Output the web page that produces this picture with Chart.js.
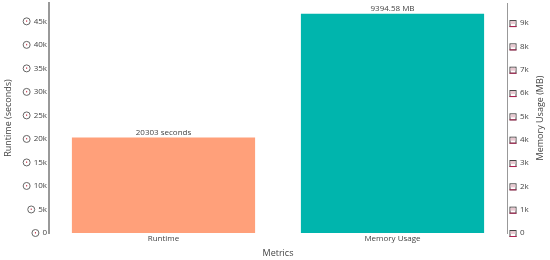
<!DOCTYPE html>
<html>
<head>
<meta charset="utf-8">
<style>
  html, body { margin: 0; padding: 0; background: #fff; }
  #wrap { width: 550px; height: 260px; }
</style>
<script src="https://cdn.jsdelivr.net/npm/chart.js@4"></script>
</head>
<body>
<div id="wrap"><canvas id="c" width="550" height="260"></canvas></div>
<script>
const categories = ['Runtime', 'Memory Usage'];
const runtimeValues = [20303, null];
const memoryValues = [null, 9394.58];
const barLabels = ['20303 seconds', '9394.58 MB'];
const runtimeTicks = [0, 5000, 10000, 15000, 20000, 25000, 30000, 35000, 40000, 45000];
const memoryTicks = [0, 1000, 2000, 3000, 4000, 5000, 6000, 7000, 8000, 9000];
const runtimeMax = 48900;
const memoryMax = 9860;
const memoryTitle = 'Memory Usage (MB)';
const FONT = '"Open Sans", sans-serif';
const TEXT = '#444444';

function kLabel(v) {
  return v === 0 ? '0' : (v / 1000) + 'k';
}

function drawClock(ctx, x, y) {
  ctx.beginPath();
  ctx.arc(x, y, 3.5, 0, Math.PI * 2);
  ctx.strokeStyle = '#666666';
  ctx.lineWidth = 1;
  ctx.stroke();
  ctx.fillStyle = '#c8344a';
  ctx.fillRect(x - 0.5, y - 1, 1, 1.5);
}

function drawDisk(ctx, x, y) {
  ctx.strokeStyle = '#444444';
  ctx.lineWidth = 1;
  ctx.strokeRect(x - 2.5, y - 2.5, 6, 6);
  ctx.fillStyle = '#e8c8d0';
  ctx.fillRect(x - 2, y - 2, 5, 3);
  ctx.fillStyle = '#b02050';
  ctx.fillRect(x - 3, y + 3, 7, 1);
}

const extras = {
  id: 'extras',
  afterDraw(chart) {
    const ctx = chart.ctx;
    ctx.save();
    ctx.font = '8px ' + FONT;
    const left = chart.scales.yRuntime;
    left.ticks.forEach((t, i) => {
      const w = ctx.measureText(kLabel(t.value)).width;
      drawClock(ctx, left.right - 2 - w - 7, left.getPixelForTick(i));
    });
    const right = chart.scales.yMemory;
    right.ticks.forEach((t, i) => {
      drawDisk(ctx, right.left + 5.5, right.getPixelForTick(i));
    });
    ctx.fillStyle = TEXT;
    ctx.textAlign = 'center';
    ctx.textBaseline = 'bottom';
    chart.data.datasets.forEach((ds, d) => {
      chart.getDatasetMeta(d).data.forEach((el, i) => {
        if (ds.data[i] == null) return;
        ctx.fillText(barLabels[d], el.x, el.y - 1);
      });
    });
    // right axis title reads upward in the reference
    ctx.translate(540, 118);
    ctx.rotate(-Math.PI / 2);
    ctx.textBaseline = 'middle';
    ctx.font = '9px ' + FONT;
    ctx.fillText(memoryTitle, 0, 0);
    ctx.restore();
  }
};

new Chart(document.getElementById('c'), {
  type: 'bar',
  data: {
    labels: categories,
    datasets: [
      { label: 'Runtime', data: runtimeValues, yAxisID: 'yRuntime', backgroundColor: '#FFA07A', grouped: false },
      { label: 'Memory Usage', data: memoryValues, yAxisID: 'yMemory', backgroundColor: '#00B5AD', grouped: false }
    ]
  },
  options: {
    responsive: false,
    animation: false,
    layout: { padding: { top: 3, bottom: 1, left: 3, right: 0 } },
    categoryPercentage: 0.8,
    barPercentage: 1,
    plugins: { legend: { display: false }, tooltip: { enabled: false } },
    scales: {
      x: {
        grid: { display: false, tickLength: 0 },
        border: { display: false },
        afterFit(axis) { axis.height = 26; axis.paddingLeft = 0; axis.paddingRight = 0; },
        ticks: { color: TEXT, font: { family: FONT, size: 8 }, padding: 1 },
        title: { display: true, text: 'Metrics', color: TEXT, font: { family: FONT, size: 9 }, padding: { top: 0, bottom: 0 } }
      },
      yRuntime: {
        position: 'left',
        min: 0,
        max: runtimeMax,
        grid: { display: false, tickLength: 0 },
        border: { display: true, color: '#999999', width: 2 },
        afterBuildTicks(axis) { axis.ticks = runtimeTicks.map(value => ({ value })); },
        afterFit(axis) { axis.width = 46; axis.paddingTop = 0; axis.paddingBottom = 0; },
        ticks: { autoSkip: false, color: TEXT, font: { family: FONT, size: 8 }, padding: 2, callback: kLabel },
        title: { display: true, text: 'Runtime (seconds)', color: TEXT, font: { family: FONT, size: 9 }, padding: 0 }
      },
      yMemory: {
        position: 'right',
        min: 0,
        max: memoryMax,
        grid: { display: false, tickLength: 0 },
        border: { display: true, color: '#999999', width: 1 },
        afterBuildTicks(axis) { axis.ticks = memoryTicks.map(value => ({ value })); },
        afterFit(axis) { axis.width = 43; axis.paddingTop = 0; axis.paddingBottom = 0; },
        ticks: { autoSkip: false, color: TEXT, font: { family: FONT, size: 8 }, padding: 13, callback: kLabel }
      }
    }
  },
  plugins: [extras]
});
</script>
</body>
</html>
